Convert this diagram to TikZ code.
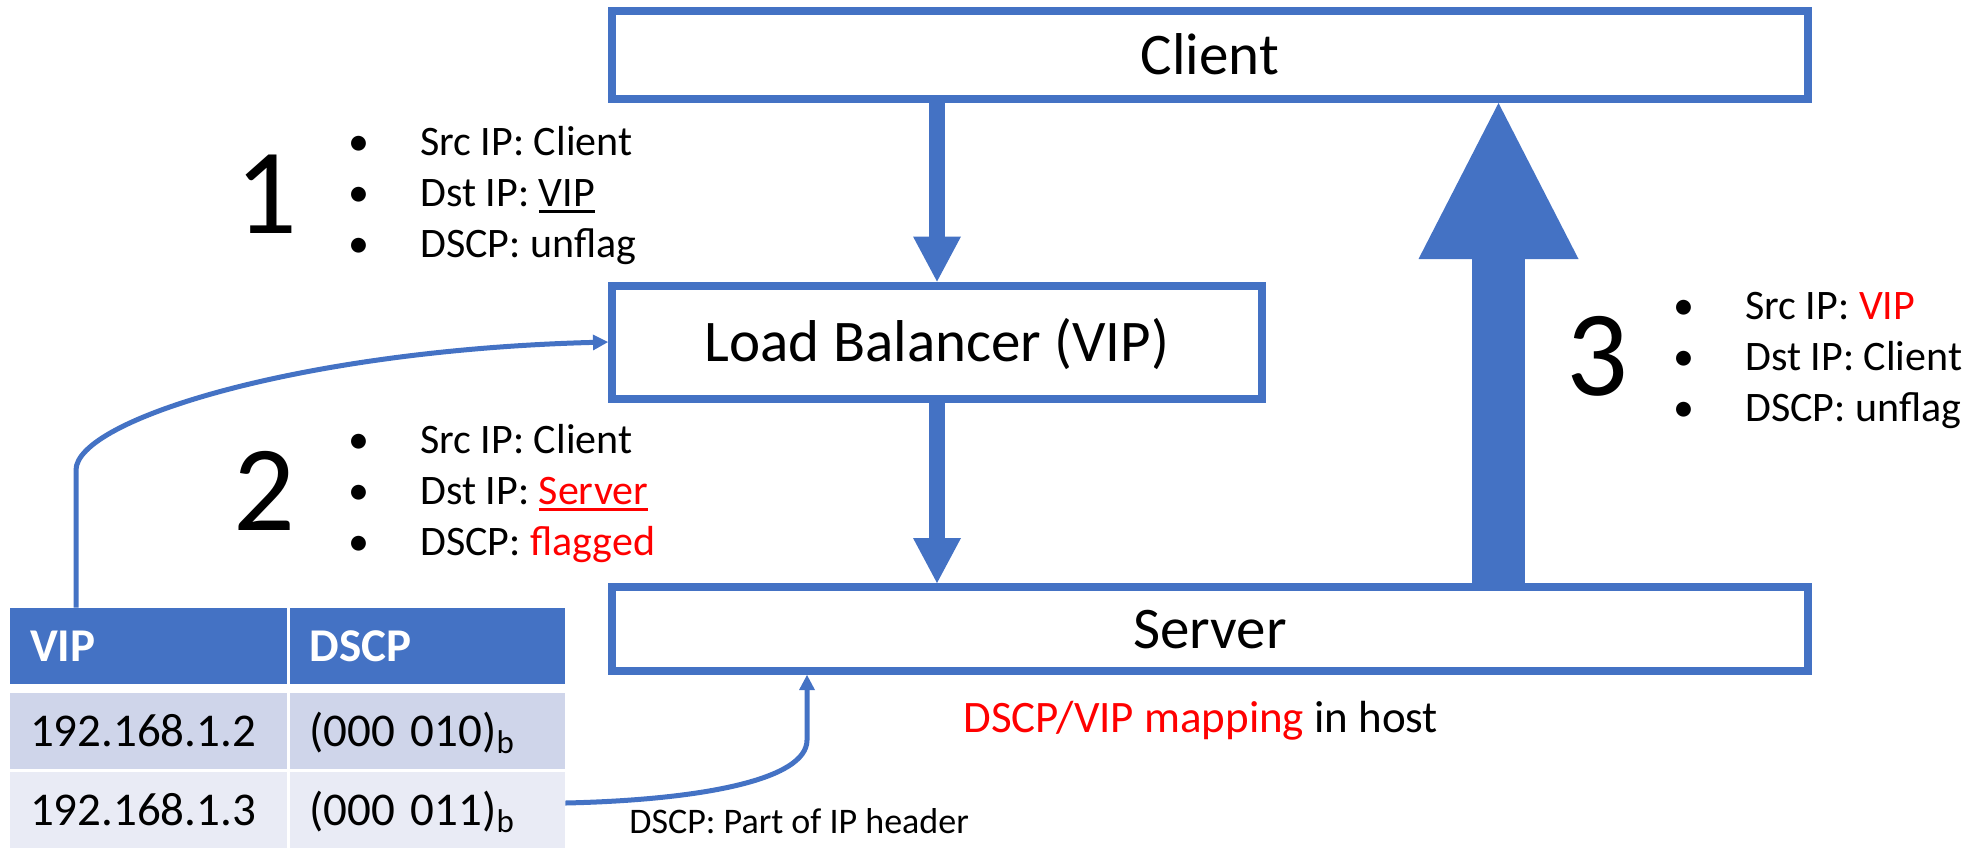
\documentclass[tikz,border=0pt]{standalone}
\usepackage{fontspec}
\setmainfont{Carlito}
\usetikzlibrary{arrows.meta,calc}
\definecolor{accent}{HTML}{4472C4}
\definecolor{rowA}{HTML}{CFD5EA}
\definecolor{rowB}{HTML}{E9EBF5}
\definecolor{hot}{HTML}{FF0000}
% underline drawn a little below the baseline, in the current colour
\newsavebox\ulinebox
\newcommand\uline[1]{\sbox\ulinebox{#1}\rlap{\rule[-3.4pt]{\wd\ulinebox}{1.25pt}}\usebox\ulinebox}
\newcommand\bul{\makebox[20pt]{\textbullet}}
\begin{document}
\begin{tikzpicture}[x=0.5pt,y=-0.5pt,
  box/.style={draw=accent,line width=4pt,fill=white,inner sep=0pt,
    font=\fontsize{29.5}{35}\selectfont,text height=19pt,text depth=0pt},
  flow/.style={draw=accent,line width=8pt,
    -{Triangle[length=22.5pt,width=24pt,line width=0pt]}},
  link/.style={draw=accent,line width=2.5pt,
    -{Triangle[length=7.5pt,width=8pt,line width=0pt]}},
  cell/.style={inner xsep=10pt,inner ysep=0pt,minimum height=38pt,align=left,
    text height=15pt,text depth=0pt,font=\fontsize{23.5}{28}\selectfont},
  colA/.style={cell,text width=118.5pt},
  colB/.style={cell,text width=117.75pt},
  headcell/.style={fill=accent,text=white,font=\fontsize{23.5}{28}\selectfont\bfseries},
  stepnum/.style={font=\fontsize{61}{70}\selectfont,inner sep=0pt,anchor=base},
  notes/.style={font=\fontsize{21}{25.5}\selectfont,inner sep=0pt,anchor=base west},
]
\useasboundingbox (0,0) rectangle (1969,848);

% hosts
\node[box,minimum width=598pt,minimum height=44pt] (client) at (1210,55) {Client};
\node[box,minimum width=325pt,minimum height=56.5pt] (lb) at (937,342) {Load Balancer (VIP)};
\node[box,minimum width=598pt,minimum height=42pt] (server) at (1210,629) {Server};

% packet path
\draw[flow] (lb.north |- client.south) -- (lb.north);
\draw[flow] (lb.south) -- (lb.south |- server.north);
\coordinate (ret) at (1498.5,0);
\draw[accent,line width=26.5pt,-{Triangle[length=78pt,width=80pt,line width=0pt]}]
  (ret |- server.north) -- (ret |- client.south);

% DSCP/VIP table
\node[colA,headcell] (hvip) at (148.5,646) {VIP};
\node[colB,headcell] (hdscp) at (427.25,646) {DSCP};
\node[colA,fill=rowA] (r1vip) at (148.5,731) {192.168.1.2};
\node[colB,fill=rowA] (r1dscp) at (427.25,731) {(000 010)\textsubscript{b}};
\node[colA,fill=rowB] (r2vip) at (148.5,810) {192.168.1.3};
\node[colB,fill=rowB] (r2dscp) at (427.25,810) {(000 011)\textsubscript{b}};

% table links
\coordinate (riseA) at (76,470);
\draw[link] (riseA |- hvip.north) -- (riseA)
  .. controls (76,420) and (300,350) .. (lb.west);
\coordinate (riseB) at (807,740);
\draw[link] ([yshift=3.5pt]r2dscp.east)
  .. controls (700,800) and (807,780) .. (riseB) -- (riseB |- server.south);

% step numbers
\node[stepnum] (n1) at (266.5,233) {1};
\node[stepnum] (n2) at (264,530) {2};
\node[stepnum] (n3) at (1597,395) {3};

% header fields per step
\node[notes] (p1) at (339,155) {\begin{tabular}[t]{@{}l@{\hspace{20.5pt}}l@{}}
  \bul & Src IP: Client\\
  \bul & Dst IP: \uline{VIP}\\
  \bul & DSCP: unflag
\end{tabular}};
\node[notes] (p2) at (339,453) {\begin{tabular}[t]{@{}l@{\hspace{20.5pt}}l@{}}
  \bul & Src IP: Client\\
  \bul & Dst IP: \textcolor{hot}{\uline{Server}}\\
  \bul & DSCP: \textcolor{hot}{flagged}
\end{tabular}};
\node[notes] (p3) at (1664,319) {\begin{tabular}[t]{@{}l@{\hspace{20.5pt}}l@{}}
  \bul & Src IP: \textcolor{hot}{VIP}\\
  \bul & Dst IP: Client\\
  \bul & DSCP: unflag
\end{tabular}};

\node[notes,font=\fontsize{22.5}{27}\selectfont] (map) at (963,732)
  {\textcolor{hot}{DSCP/VIP mapping} in host};
\node[inner sep=0pt,anchor=base west,font=\fontsize{18}{21}\selectfont] (hdrnote)
  at (629,833) {DSCP: Part of IP header};
\end{tikzpicture}
\end{document}
